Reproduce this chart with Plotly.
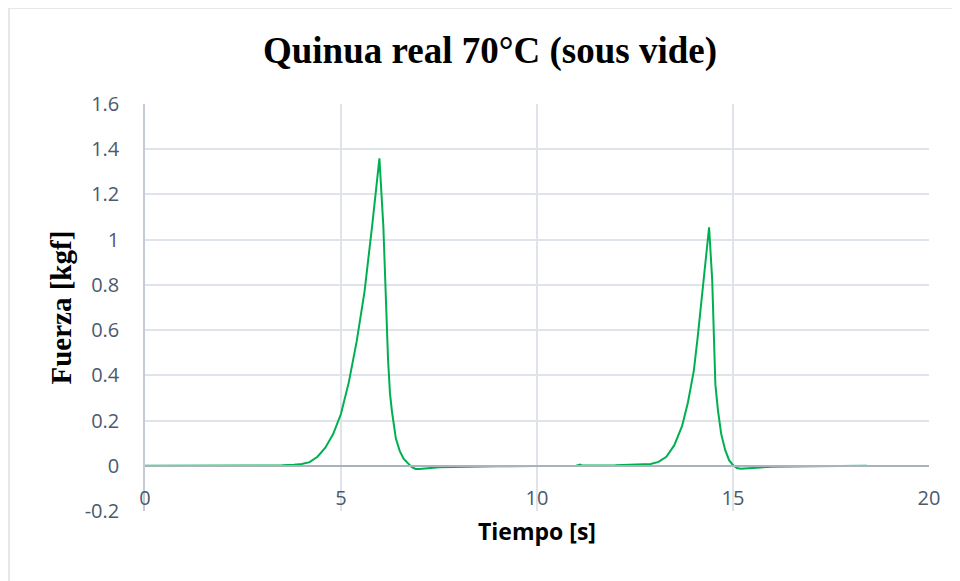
import plotly.graph_objects as go

# Texture analyser readings: time [s] vs force [kgf]
tiempo = [
    0.0, 1.0, 2.0, 3.0, 3.5, 3.8, 4.0, 4.2, 4.4, 4.6, 4.8, 5.0, 5.2, 5.4, 5.6, 5.8, 5.98,
    6.08, 6.2, 6.25, 6.3, 6.4, 6.5, 6.6, 6.7, 6.8, 6.9, 7.0, 7.5, 8.0, 9.0, 10.0,
    11.0, 11.1, 11.15, 12.0, 12.6, 12.9, 13.1, 13.3, 13.5, 13.7, 13.85, 14.0, 14.1,
    14.2, 14.3, 14.39, 14.47, 14.55, 14.62, 14.7, 14.8, 14.9, 15.0, 15.1, 15.2, 15.4,
    16.0, 17.0, 18.0, 18.42,
]
fuerza = [
    0.0, 0.0, 0.0, 0.001, 0.002, 0.005, 0.008, 0.016, 0.04, 0.08, 0.14, 0.23, 0.37, 0.55, 0.77, 1.07, 1.36,
    1.06, 0.47, 0.32, 0.24, 0.12, 0.065, 0.03, 0.01, -0.005, -0.014, -0.014, -0.006, -0.004, -0.002, -0.001,
    0.0, 0.005, 0.001, 0.002, 0.004, 0.008, 0.017, 0.04, 0.09, 0.175, 0.28, 0.42, 0.57,
    0.74, 0.92, 1.055, 0.82, 0.36, 0.24, 0.14, 0.07, 0.025, 0.003, -0.01, -0.013, -0.01,
    -0.004, -0.002, 0.0, 0.0,
]

x_ticks = [0, 5, 10, 15, 20]
y_ticks = [-0.2, 0, 0.2, 0.4, 0.6, 0.8, 1, 1.2, 1.4, 1.6]
y_labels = ["-0.2", "0", "0.2", "0.4", "0.6", "0.8", "1", "1.2", "1.4", "1.6"]

GRID = "#dfe3ea"
TICK_COLOR = "#4b5a6e"
TICK_FONT = dict(family="Open Sans", size=20, color=TICK_COLOR)

# page body has an 8px margin, so the figure is laid out 8px smaller
W, H = 952, 573
L, R, T, B = 137, 31, 96, 70
PLOT_W, PLOT_H = W - L - R, H - T - B

fig = go.Figure(
    go.Scatter(
        x=tiempo, y=fuerza, mode="lines",
        line=dict(color="#00b050", width=2),
        hoverinfo="x+y",
    )
)

fig.update_layout(
    width=W, height=H,
    paper_bgcolor="white", plot_bgcolor="white",
    margin=dict(l=L, r=R, t=T, b=B),
    showlegend=False,
    title=dict(
        text="<b>Quinua real 70°C (sous vide)</b>",
        font=dict(family="Liberation Serif", size=37, color="black"),
        x=482 / W, xanchor="center", y=1 - 42 / H, yanchor="middle",
    ),
    annotations=[
        dict(
            text="<b>Fuerza [kgf]</b>", textangle=-90, showarrow=False,
            xref="paper", yref="paper", x=(52 - L) / PLOT_W, y=0.5,
            xanchor="center", yanchor="middle",
            font=dict(family="Liberation Serif", size=29, color="black"),
        ),
        dict(
            text="<b>Tiempo [s]</b>", showarrow=False,
            xref="paper", yref="paper", x=0.5, y=-20 / PLOT_H,
            xanchor="center", yanchor="middle",
            font=dict(family="Open Sans", size=23, color="black"),
        ),
    ],
    shapes=[
        # chart-area border (top and left edges visible)
        dict(type="line", xref="paper", yref="paper",
             x0=(1 - L) / PLOT_W, x1=1.1, y0=(PLOT_H + T) / PLOT_H, y1=(PLOT_H + T) / PLOT_H,
             line=dict(color="#dcdfe4", width=1.5)),
        dict(type="line", xref="paper", yref="paper",
             x0=(1 - L) / PLOT_W, x1=(1 - L) / PLOT_W, y0=(PLOT_H + T) / PLOT_H, y1=-0.3,
             line=dict(color="#dcdfe4", width=1.5)),
    ],
)

fig.update_xaxes(
    range=[0, 20], tickvals=x_ticks, ticktext=[str(v) for v in x_ticks],
    showgrid=True, gridcolor=GRID, gridwidth=1.5,
    zeroline=False, automargin=False,
    anchor="free", position=0.2 / 1.8,
    showline=True, linecolor="#aab2c0", linewidth=2,
    ticks="outside", ticklen=14, tickcolor="rgba(0,0,0,0)",
    tickfont=TICK_FONT,
)
fig.update_yaxes(
    range=[-0.2, 1.6], tickvals=y_ticks, ticktext=y_labels,
    showgrid=True, gridcolor=GRID, gridwidth=1.5,
    zeroline=False, automargin=False,
    showline=True, linecolor="#c4cbd6", linewidth=1.5,
    ticks="outside", ticklen=20, tickcolor="rgba(0,0,0,0)",
    tickfont=TICK_FONT,
)

fig.write_html("out.html")
